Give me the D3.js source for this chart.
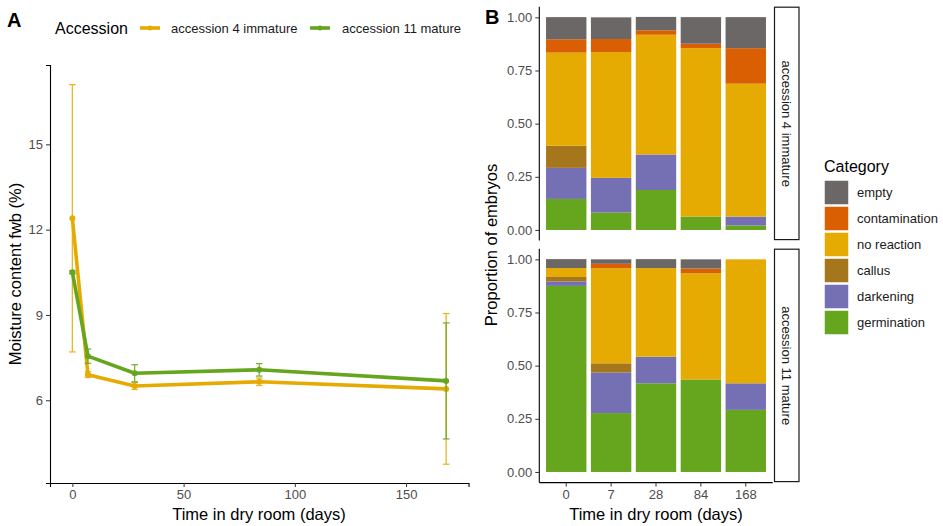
<!DOCTYPE html>
<html>
<head>
<meta charset="utf-8">
<script src="https://cdn.jsdelivr.net/npm/d3@7"></script>
<style>
  body { margin: 0; background: #fff; }
  text { font-family: "Liberation Sans", Arial, sans-serif; }
  .tick text { fill: #4d4d4d; font-size: 13px; }
  .tick line { stroke: #333; }
  .domain { stroke: #000; stroke-width: 1.1px; }
</style>
</head>
<body>
<svg width="943" height="526"></svg>
<script>
// ---- panel A data: moisture content over time in the dry room
var dryDays = [0, 7, 28, 84, 168];
var accessions = ["accession 4 immature", "accession 11 mature"];
var mc4 = [12.4, 6.9, 6.5, 6.65, 6.4];
var err4 = [4.7, 0.1, 0.12, 0.13, 2.65];
var mc11 = [10.5, 7.55, 6.95, 7.07, 6.68];
var err11 = [0.05, 0.25, 0.3, 0.22, 2.04];
var ticksAx = [0, 50, 100, 150];
var ticksAy = [6, 9, 12, 15];

// ---- panel B data: proportion of embryos per category (bars = days)
var barDays = ["0", "7", "28", "84", "168"];
var categories = ["empty", "contamination", "no reaction", "callus", "darkening", "germination"];
// accession 4 immature
var empty4 = [0.104, 0.102, 0.063, 0.125, 0.146];
var contam4 = [0.063, 0.061, 0.021, 0.021, 0.167];
var noreact4 = [0.438, 0.592, 0.563, 0.792, 0.625];
var callus4 = [0.104, 0, 0, 0, 0];
var dark4 = [0.146, 0.163, 0.167, 0, 0.042];
var germ4 = [0.146, 0.082, 0.188, 0.063, 0.021];
// accession 11 mature
var empty11 = [0.042, 0.021, 0.042, 0.043, 0];
var contam11 = [0, 0.021, 0, 0.022, 0];
var noreact11 = [0.042, 0.447, 0.417, 0.5, 0.583];
var callus11 = [0.021, 0.043, 0, 0, 0];
var dark11 = [0.021, 0.191, 0.125, 0, 0.125];
var germ11 = [0.875, 0.277, 0.417, 0.435, 0.292];
var ticksBy = [0, 0.25, 0.5, 0.75, 1];

var colAcc = ["#E6AB02", "#66A61E"];
var colCat = ["#6b6767", "#D95F02", "#E6AB02", "#A6761D", "#7570B3", "#66A61E"];

var svg = d3.select("svg");

// ================= Panel A =================
var xA = d3.scaleLinear().domain([-10.05, 178.05]).range([50, 468.5]);
var yA = d3.scaleLinear().domain([3.09, 17.79]).range([483, 65]);

svg.append("g")
    .attr("transform", "translate(0,483)")
    .call(d3.axisBottom(xA).tickValues(ticksAx).tickSize(4).tickPadding(3));
svg.append("g")
    .attr("transform", "translate(50,0)")
    .call(d3.axisLeft(yA).tickValues(ticksAy).tickSize(4).tickPadding(3));

var seriesA = [
    {name: accessions[0], mean: mc4, err: err4, color: colAcc[0]},
    {name: accessions[1], mean: mc11, err: err11, color: colAcc[1]}
];

var line = d3.line()
    .x(function (d) { return xA(d.day); })
    .y(function (d) { return yA(d.v); });

seriesA.forEach(function (s) {
    var pts = dryDays.map(function (d, i) {
        return {day: d, v: s.mean[i], e: s.err[i]};
    });
    var g = svg.append("g");
    // error bars
    pts.forEach(function (p) {
        var x = xA(p.day), w = xA(1.5) - xA(0);
        var eb = g.append("g").attr("stroke", s.color).attr("stroke-width", 1.3).attr("opacity", 0.85);
        eb.append("line").attr("x1", x).attr("x2", x).attr("y1", yA(p.v - p.e)).attr("y2", yA(p.v + p.e));
        eb.append("line").attr("x1", x - w).attr("x2", x + w).attr("y1", yA(p.v - p.e)).attr("y2", yA(p.v - p.e));
        eb.append("line").attr("x1", x - w).attr("x2", x + w).attr("y1", yA(p.v + p.e)).attr("y2", yA(p.v + p.e));
    });
    g.append("path")
        .datum(pts)
        .attr("fill", "none")
        .attr("stroke", s.color)
        .attr("stroke-width", 3.6)
        .attr("stroke-linejoin", "round")
        .attr("d", line);
    g.selectAll("circle")
        .data(pts)
        .enter().append("circle")
        .attr("cx", function (d) { return xA(d.day); })
        .attr("cy", function (d) { return yA(d.v); })
        .attr("r", 3)
        .attr("fill", s.color);
});

svg.append("text")
    .attr("x", 259).attr("y", 520)
    .attr("text-anchor", "middle")
    .style("font-size", "16.5px")
    .text("Time in dry room (days)");
svg.append("text")
    .attr("transform", "translate(21,274) rotate(-90)")
    .attr("text-anchor", "middle")
    .style("font-size", "16.5px")
    .text("Moisture content fwb (%)");

// legend A
svg.append("text").attr("x", 55).attr("y", 34).style("font-size", "16px").text("Accession");
var legA = [{x: 140, lx: 171}, {x: 310, lx: 342}];
seriesA.forEach(function (s, i) {
    var k = svg.append("g");
    k.append("line").attr("x1", legA[i].x).attr("x2", legA[i].x + 20)
        .attr("y1", 28).attr("y2", 28)
        .attr("stroke", s.color).attr("stroke-width", 3.6);
    k.append("circle").attr("cx", legA[i].x + 10).attr("cy", 28).attr("r", 2.5).attr("fill", s.color);
    k.append("text").attr("x", legA[i].lx).attr("y", 33).style("font-size", "13px").attr("fill", "#1a1a1a").text(s.name);
});

svg.append("text").attr("x", 7).attr("y", 27).style("font-size", "20px").style("font-weight", "bold").text("A");

// ================= Panel B =================
var xB = d3.scaleBand().domain(barDays).range([539.3, 772.7]).paddingInner(0.1).paddingOuter(0.15);

var facets = [
    {label: accessions[0], top: 6.7, bottom: 240.6,
     vals: {"empty": empty4, "contamination": contam4, "no reaction": noreact4, "callus": callus4, "darkening": dark4, "germination": germ4}},
    {label: accessions[1], top: 248.7, bottom: 482.6,
     vals: {"empty": empty11, "contamination": contam11, "no reaction": noreact11, "callus": callus11, "darkening": dark11, "germination": germ11}}
];

var stackKeys = categories.slice().reverse();
var colorCat = d3.scaleOrdinal().domain(categories).range(colCat);

facets.forEach(function (f) {
    var yB = d3.scaleLinear().domain([-0.05, 1.05]).range([f.bottom, f.top]);
    var rows = barDays.map(function (d, i) {
        var r = {day: d};
        categories.forEach(function (c) { r[c] = f.vals[c][i]; });
        return r;
    });
    var stacked = d3.stack().keys(stackKeys)(rows);

    var g = svg.append("g");
    g.selectAll("g.layer")
        .data(stacked)
        .enter().append("g")
        .attr("class", "layer")
        .attr("fill", function (d) { return colorCat(d.key); })
        .selectAll("rect")
        .data(function (d) { return d; })
        .enter().append("rect")
        .attr("x", function (d) { return xB(d.data.day); })
        .attr("width", xB.bandwidth())
        .attr("y", function (d) { return yB(d[1]); })
        .attr("height", function (d) { return Math.max(0, yB(d[0]) - yB(d[1])); });

    svg.append("g")
        .attr("transform", "translate(539.3,0)")
        .call(d3.axisLeft(yB).tickValues(ticksBy).tickFormat(d3.format(".2f")).tickSize(4).tickPadding(3))
        .call(function (a) { a.select(".domain").attr("d", "M0," + f.top + "V" + f.bottom); });

    // strip
    svg.append("rect")
        .attr("x", 774.5).attr("y", f.top + 0.5)
        .attr("width", 24.5).attr("height", f.bottom - f.top - 1.5)
        .attr("fill", "#fff").attr("stroke", "#1a1a1a").attr("stroke-width", 1.2);
    svg.append("text")
        .attr("transform", "translate(782.3," + ((f.top + f.bottom) / 2) + ") rotate(90)")
        .attr("text-anchor", "middle")
        .style("font-size", "13px")
        .attr("fill", "#1a1a1a")
        .text(f.label);
});

svg.append("g")
    .attr("transform", "translate(0,482.6)")
    .call(d3.axisBottom(xB).tickSize(4).tickPadding(3))
    .call(function (a) { a.select(".domain").attr("d", "M539.3,0H772.7"); });

svg.append("text")
    .attr("x", 656).attr("y", 520)
    .attr("text-anchor", "middle")
    .style("font-size", "16.5px")
    .text("Time in dry room (days)");
svg.append("text")
    .attr("transform", "translate(497,245) rotate(-90)")
    .attr("text-anchor", "middle")
    .style("font-size", "16.5px")
    .text("Proportion of embryos");

svg.append("text").attr("x", 485).attr("y", 24).style("font-size", "20px").style("font-weight", "bold").text("B");

// legend B
svg.append("text").attr("x", 824).attr("y", 172).style("font-size", "16px").text("Category");
var legB = svg.append("g").selectAll("g")
    .data(categories)
    .enter().append("g")
    .attr("transform", function (d, i) { return "translate(824," + (180 + i * 26) + ")"; });
legB.append("rect")
    .attr("width", 25).attr("height", 25)
    .attr("fill", function (d) { return colorCat(d); })
    .attr("stroke", "#fff").attr("stroke-width", 1.5);
legB.append("text")
    .attr("x", 33).attr("y", 17)
    .style("font-size", "13px")
    .attr("fill", "#1a1a1a")
    .text(function (d) { return d; });
</script>
</body>
</html>
